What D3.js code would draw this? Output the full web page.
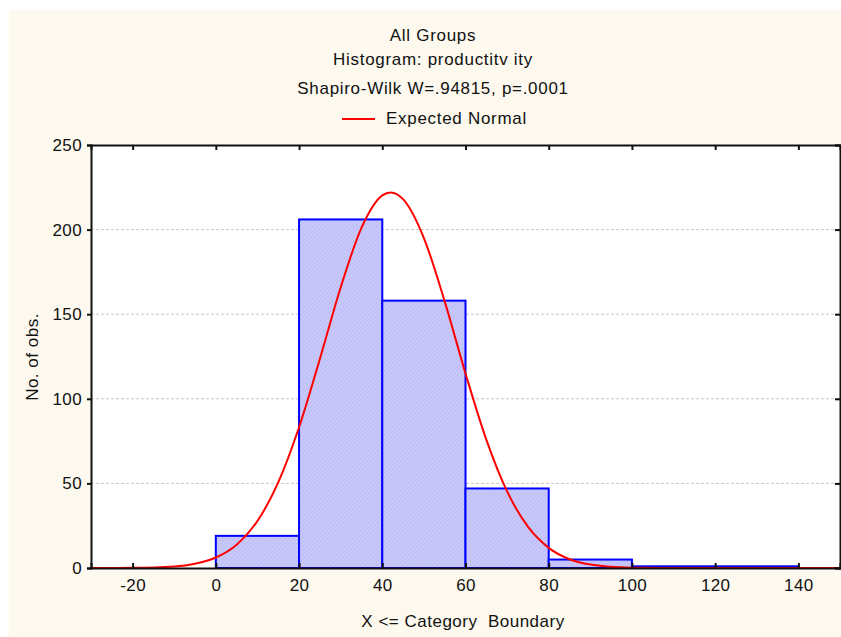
<!DOCTYPE html>
<html>
<head>
<meta charset="utf-8">
<script src="https://cdn.jsdelivr.net/npm/d3@7"></script>
<style>
  body { margin: 0; background: #fff; }
  svg { display: block; font-family: "Liberation Sans", Arial, sans-serif; }
</style>
</head>
<body>
<div id="chart"></div>
<script>
// bins (lower edge, upper edge) and counts
const binStarts = [0, 20, 40, 60, 80, 100, 120];
const binEnds = [20, 40, 60, 80, 100, 120, 140];
const counts = [19, 206, 158, 47, 5, 1, 1];

// expected normal curve
const curveX = [-30, -20, -10, -5, 0, 5, 10, 15, 20, 25, 30, 35, 40, 42, 45, 50, 55, 60, 65, 70, 75, 80, 85, 90, 100, 110, 150];
const curveY = [0, 0.1, 0.9, 2.5, 6.2, 13.8, 27.8, 50.6, 83.2, 123.5, 165.8, 201, 220.2, 222, 218, 195, 157.6, 115, 75.9, 45.3, 24.4, 11.9, 5.2, 2.1, 0.2, 0, 0];

const xTicks = [-20, 0, 20, 40, 60, 80, 100, 120, 140];
const yTicks = [0, 50, 100, 150, 200, 250];

const titleLines = ['All Groups', 'Histogram: productitv ity', 'Shapiro-Wilk W=.94815, p=.0001'];

const width = 841, height = 637;
const margin = { left: 91, top: 145, right: 840, bottom: 568 };
const fontSize = '17px';

const svg = d3.select('#chart').append('svg')
  .attr('width', width)
  .attr('height', height);

// hatch pattern for bars
const defs = svg.append('defs');
const pat = defs.append('pattern')
  .attr('id', 'hatch')
  .attr('patternUnits', 'userSpaceOnUse')
  .attr('width', 3).attr('height', 3)
  .attr('patternTransform', 'rotate(45)');
pat.append('rect').attr('width', 3).attr('height', 3).attr('fill', '#c9c9fb');
pat.append('line').attr('x1', 0).attr('y1', 0).attr('x2', 0).attr('y2', 3)
  .attr('stroke', '#aeaef2').attr('stroke-width', 1);

// cream background
svg.append('rect')
  .attr('x', 9).attr('y', 10)
  .attr('width', width - 9).attr('height', height - 10)
  .attr('fill', '#fdf9ef');

const x = d3.scaleLinear().domain([-30, 150]).range([margin.left, margin.right]);
const y = d3.scaleLinear().domain([0, 250]).range([margin.bottom, margin.top]);

// plot area
svg.append('rect')
  .attr('x', margin.left).attr('y', margin.top)
  .attr('width', margin.right - margin.left)
  .attr('height', margin.bottom - margin.top)
  .attr('fill', '#fff');

// grid lines
svg.append('g')
  .selectAll('line')
  .data(yTicks.filter(d => d > 0 && d < 250))
  .enter().append('line')
  .attr('x1', margin.left).attr('x2', margin.right)
  .attr('y1', d => y(d)).attr('y2', d => y(d))
  .attr('stroke', '#c8c8c8')
  .attr('stroke-dasharray', '3,2');

// bars
svg.append('g')
  .selectAll('rect')
  .data(counts)
  .enter().append('rect')
  .attr('x', (d, i) => x(binStarts[i]))
  .attr('y', d => y(d))
  .attr('width', (d, i) => x(binEnds[i]) - x(binStarts[i]))
  .attr('height', d => y(0) - y(d))
  .attr('fill', 'url(#hatch)')
  .attr('stroke', '#0000ff')
  .attr('stroke-width', 2);

// normal curve
const line = d3.line()
  .x((d, i) => x(curveX[i]))
  .y(d => y(d))
  .curve(d3.curveMonotoneX);

svg.append('path')
  .datum(curveY)
  .attr('d', line)
  .attr('fill', 'none')
  .attr('stroke', '#ff0000')
  .attr('stroke-width', 2);

// axes
const plain = d => String(d);
const gxb = svg.append('g')
  .attr('transform', `translate(0,${margin.bottom})`)
  .call(d3.axisBottom(x).tickValues(xTicks).tickSize(-5).tickPadding(11).tickFormat(plain));

const gxt = svg.append('g')
  .attr('transform', `translate(0,${margin.top})`)
  .call(d3.axisTop(x).tickValues(xTicks).tickSize(-5).tickFormat(''));

const gyl = svg.append('g')
  .attr('transform', `translate(${margin.left},0)`)
  .call(d3.axisLeft(y).tickValues(yTicks).tickSize(4).tickPadding(5).tickFormat(plain));

const gyr = svg.append('g')
  .attr('transform', `translate(${margin.right},0)`)
  .call(d3.axisRight(y).tickValues(yTicks).tickSize(-5).tickFormat(''));

[gxb, gxt, gyl, gyr].forEach(g => {
  g.select('.domain').attr('stroke', '#111').attr('stroke-width', 2);
  g.selectAll('.tick line').attr('stroke', '#111').attr('stroke-width', 2);
  g.selectAll('.tick text')
    .attr('fill', '#111')
    .style('font-size', fontSize)
    .style('letter-spacing', '0.4px')
    .style('font-family', '"Liberation Sans", Arial, sans-serif');
});

// titles
svg.append('g')
  .selectAll('text')
  .data(titleLines)
  .enter().append('text')
  .attr('x', 433)
  .attr('y', (d, i) => [41, 65, 94][i])
  .attr('text-anchor', 'middle')
  .attr('fill', '#111')
  .style('font-size', fontSize)
  .style('letter-spacing', '0.7px')
  .text(d => d);

// legend
svg.append('line')
  .attr('x1', 342).attr('x2', 375)
  .attr('y1', 119).attr('y2', 119)
  .attr('stroke', '#ff0000').attr('stroke-width', 2);
svg.append('text')
  .attr('x', 386).attr('y', 124)
  .attr('fill', '#111')
  .style('font-size', fontSize)
  .style('letter-spacing', '0.7px')
  .text('Expected Normal');

// axis labels
svg.append('text')
  .attr('x', 463).attr('y', 627)
  .attr('text-anchor', 'middle')
  .attr('fill', '#111')
  .style('font-size', fontSize)
  .style('letter-spacing', '0.5px')
  .style('white-space', 'pre')
  .text('X <= Category  Boundary');

svg.append('text')
  .attr('transform', 'translate(38,357) rotate(-90)')
  .attr('text-anchor', 'middle')
  .attr('fill', '#111')
  .style('font-size', fontSize)
  .style('letter-spacing', '0.5px')
  .text('No. of obs.');
</script>
</body>
</html>
